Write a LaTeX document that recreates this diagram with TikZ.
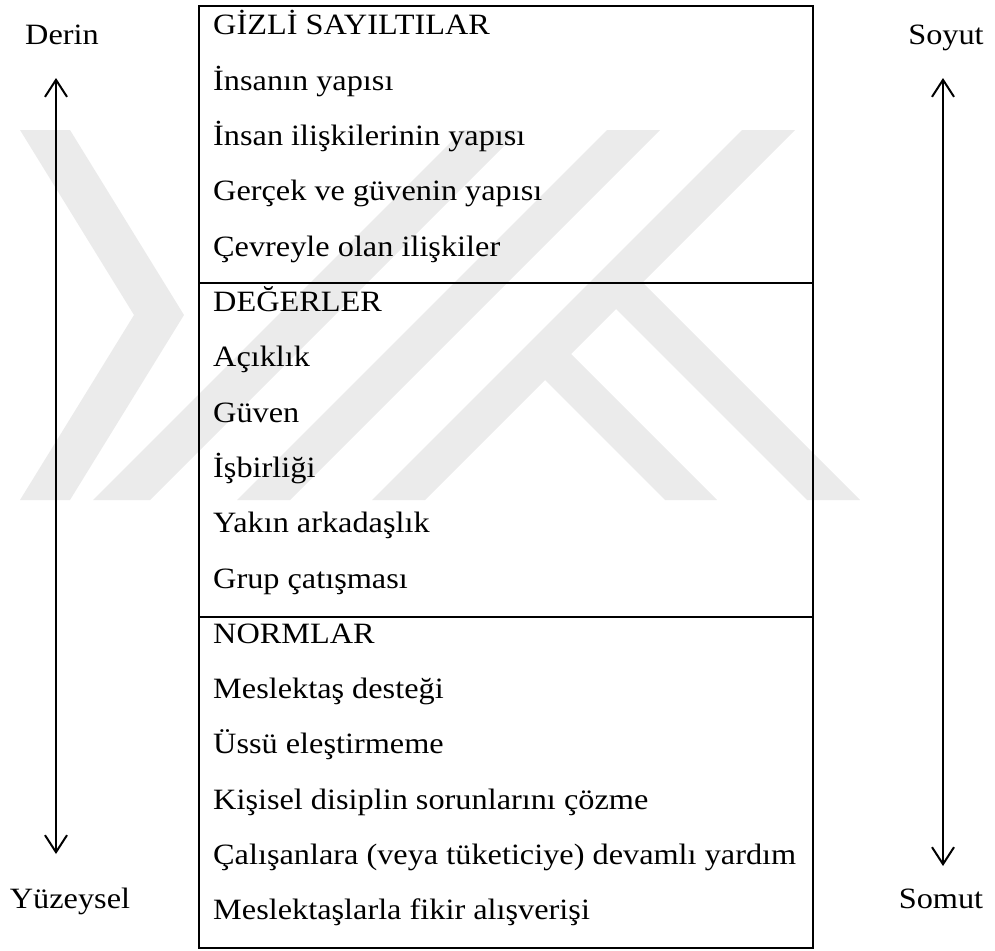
\documentclass[tikz,border=0pt]{standalone}
\usepackage{fontspec}
\setmainfont{Liberation Serif}[FakeStretch=1.095]
\usetikzlibrary{arrows.meta}
\definecolor{wmgray}{HTML}{EBEBEB}
\begin{document}
\begin{tikzpicture}[x=1pt,y=-1pt,
  txt/.style={inner sep=0pt,font=\fontsize{29.5}{31}\selectfont},
  item/.style={txt,anchor=base west},
  side/.style={txt,anchor=base},
  frame/.style={line width=2pt},
  axis/.style={line width=2pt,
    {Straight Barb[length=17pt,width=22pt]}-{Straight Barb[length=17pt,width=22pt]}},
  emblem/.style={fill=wmgray,draw=none}]
\useasboundingbox (0,0) rectangle (995,950);

% faint background emblem
\fill[emblem] (20,130) -- (70,130) -- (184,315) -- (70,500) -- (20,500) -- (134,315) -- cycle;
\fill[emblem] (463,130) -- (520,130) -- (150,500) -- (93,500) -- cycle;
\fill[emblem] (607,130) -- (660,130) -- (290,500) -- (237,500) -- cycle;
\fill[emblem] (742,130) -- (795,130) -- (425,500) -- (372,500) -- cycle;
\fill[emblem] (629,269) -- (860,500) -- (807,500) -- (602.5,295.5) -- cycle;
\fill[emblem] (557.5,340.5) -- (717,500) -- (665,500) -- (531.5,366.5) -- cycle;

% the three-layer table
\draw[frame] (199,6) rectangle (813,948);
\draw[frame] (199,283) -- (813,283);
\draw[frame] (199,617) -- (813,617);

\node[item] (l0)  at (213,35.0)  {GİZLİ SAYILTILAR};
\node[item] (l1)  at (213,90.3)  {İnsanın yapısı};
\node[item] (l2)  at (213,145.6) {İnsan ilişkilerinin yapısı};
\node[item] (l3)  at (213,200.9) {Gerçek ve güvenin yapısı};
\node[item] (l4)  at (213,256.2) {Çevreyle olan ilişkiler};
\node[item] (l5)  at (213,311.5) {DEĞERLER};
\node[item] (l6)  at (213,366.8) {Açıklık};
\node[item] (l7)  at (213,422.1) {Güven};
\node[item] (l8)  at (213,477.4) {İşbirliği};
\node[item] (l9)  at (213,532.7) {Yakın arkadaşlık};
\node[item] (l10) at (213,588.0) {Grup çatışması};
\node[item] (l11) at (213,643.3) {NORMLAR};
\node[item] (l12) at (213,698.6) {Meslektaş desteği};
\node[item] (l13) at (213,753.9) {Üssü eleştirmeme};
\node[item] (l14) at (213,809.2) {Kişisel disiplin sorunlarını çözme};
\node[item] (l15) at (213,864.5) {Çalışanlara (veya tüketiciye) devamlı yardım};
\node[item] (l16) at (213,919.8) {Meslektaşlarla fikir alışverişi};

% side scales
\node[side] (derin) at (62,45)  {Derin};
\node[side] (yuzey) at (70,908) {Yüzeysel};
\node[side] (soyut) at (946,45) {Soyut};
\node[side] (somut) at (941,908) {Somut};

\coordinate (ltop) at (56,78);
\coordinate (lbot) at (56,854);
\coordinate (rtop) at (943,78);
\coordinate (rbot) at (943,866);
\draw[axis] (ltop) -- (lbot);
\draw[axis] (rtop) -- (rbot);
\end{tikzpicture}
\end{document}
